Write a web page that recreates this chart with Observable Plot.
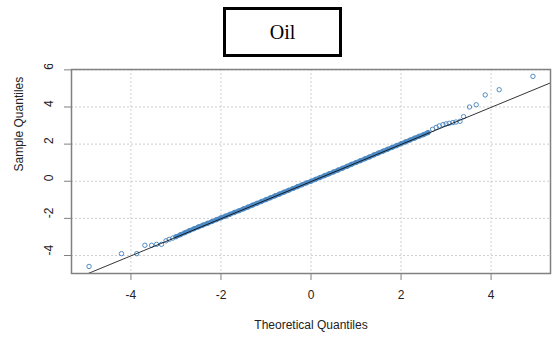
<!DOCTYPE html>
<html>
<head>
<meta charset="utf-8">
<script src="https://cdn.jsdelivr.net/npm/d3@7"></script>
<script src="https://cdn.jsdelivr.net/npm/@observablehq/plot@0.6"></script>
<style>
  body { margin: 0; background: #fff; }
  #wrap { position: relative; width: 555px; height: 338px; overflow: hidden; }
  #title {
    position: absolute; left: 223px; top: 7px; width: 113px; height: 44px;
    border: 3px solid #000; background: #fff;
    font-family: "Liberation Serif", "Times New Roman", serif; font-size: 20px; color: #000;
    display: flex; align-items: center; justify-content: center;
  }
  #chart { position: absolute; left: 0; top: 64px; }
</style>
</head>
<body>
<div id="wrap">
  <div id="title">Oil</div>
  <div id="chart"></div>
</div>
<script>
// Normal Q-Q plot of oil returns

// Axis ticks
const xTicks = [-4, -2, 0, 2, 4];
const yTicks = [-4, -2, 0, 2, 4, 6];

// Lower tail (theoretical, sample)
const lowerTheo   = [-4.93, -4.21, -3.87, -3.69, -3.54, -3.43, -3.32, -3.22, -3.15, -3.07];
const lowerSample = [-4.59, -3.90, -3.90, -3.45, -3.45, -3.40, -3.40, -3.21, -3.13, -3.06];

// Dense body of the distribution
const bodyTheo = [
  -3.0, -2.9, -2.8, -2.7, -2.6, -2.5, -2.4, -2.3, -2.2, -2.1,
  -2.0, -1.9, -1.8, -1.7, -1.6, -1.5, -1.4, -1.3, -1.2, -1.1,
  -1.0, -0.9, -0.8, -0.7, -0.6, -0.5, -0.4, -0.3, -0.2, -0.1,
   0.0,  0.1,  0.2,  0.3,  0.4,  0.5,  0.6,  0.7,  0.8,  0.9,
   1.0,  1.1,  1.2,  1.3,  1.4,  1.5,  1.6,  1.7,  1.8,  1.9,
   2.0,  2.1,  2.2,  2.3,  2.4,  2.5,  2.6
];
const bodySample = [
  -2.99, -2.88, -2.77, -2.66, -2.56, -2.46, -2.36, -2.27, -2.17, -2.07,
  -1.97, -1.88, -1.78, -1.68, -1.59, -1.49, -1.39, -1.29, -1.19, -1.09,
  -0.99, -0.89, -0.79, -0.69, -0.59, -0.49, -0.39, -0.29, -0.19, -0.09,
   0.00,  0.10,  0.20,  0.30,  0.40,  0.50,  0.60,  0.70,  0.80,  0.91,
   1.01,  1.11,  1.21,  1.31,  1.42,  1.52,  1.62,  1.72,  1.82,  1.92,
   2.02,  2.12,  2.22,  2.32,  2.42,  2.51,  2.62
];

// Upper tail
const upperTheo   = [2.70, 2.78, 2.85, 2.93, 3.00, 3.07, 3.15, 3.22, 3.31, 3.39, 3.52, 3.67, 3.87, 4.18, 4.93];
const upperSample = [2.80, 2.90, 2.98, 3.05, 3.09, 3.12, 3.16, 3.19, 3.23, 3.48, 4.00, 4.12, 4.65, 4.93, 5.65];

// Reference line through the quartiles
const lineIntercept = -0.02;
const lineSlope = 1.0;

const xDomain = [-5.32, 5.32];
const yDomain = [-4.97, 6.02];

const pairs = (xs, ys) => xs.map((x, i) => ({x, y: ys[i]}));
const body = pairs(bodyTheo, bodySample);
const points = [...pairs(lowerTheo, lowerSample), ...body, ...pairs(upperTheo, upperSample)];
const refLine = xDomain.map(x => ({x, y: lineIntercept + lineSlope * x}));

const pointColor = "#4f8bc4";
const axisColor = "#808080";
const textColor = "#222";
const fmt = d => `${d}`;

const chart = Plot.plot({
  width: 555,
  height: 274,
  marginLeft: 71,
  marginRight: 5,
  marginTop: 5,
  marginBottom: 65,
  x: {domain: xDomain},
  y: {domain: yDomain},
  style: {fontFamily: "'Liberation Sans', Arial, sans-serif", fontSize: "12px", color: textColor, background: "#fff"},
  marks: [
    Plot.gridX(xTicks, {stroke: "#cfcfcf", strokeOpacity: 1, strokeDasharray: "2,2"}),
    Plot.gridY(yTicks, {stroke: "#cfcfcf", strokeOpacity: 1, strokeDasharray: "2,2"}),
    Plot.line(body, {x: "x", y: "y", stroke: "#4d8ac4", strokeWidth: 4.5}),
    Plot.dot(points, {x: "x", y: "y", r: 2.2, stroke: pointColor, strokeWidth: 1, fill: "none"}),
    Plot.line(refLine, {x: "x", y: "y", stroke: "#000", strokeWidth: 0.8, clip: true}),
    Plot.frame({stroke: axisColor, strokeWidth: 1.5}),
    Plot.axisX(xTicks, {tickSize: 7, tickPadding: 10, stroke: axisColor, fill: textColor, fontSize: 12, tickFormat: fmt, label: null}),
    Plot.axisY(yTicks, {tickSize: 7, stroke: axisColor, text: null, label: null}),
    Plot.text(yTicks, {y: d => d, text: fmt, frameAnchor: "left", dx: -22.7, rotate: -90, fill: textColor, fontSize: 12}),
    Plot.text(["Theoretical Quantiles"], {text: d => d, frameAnchor: "bottom", dy: 55, fill: textColor, fontSize: 12}),
    Plot.text(["Sample Quantiles"], {text: d => d, frameAnchor: "left", dx: -52.7, rotate: -90, fill: textColor, fontSize: 12})
  ]
});

document.getElementById("chart").appendChild(chart);
</script>
</body>
</html>
